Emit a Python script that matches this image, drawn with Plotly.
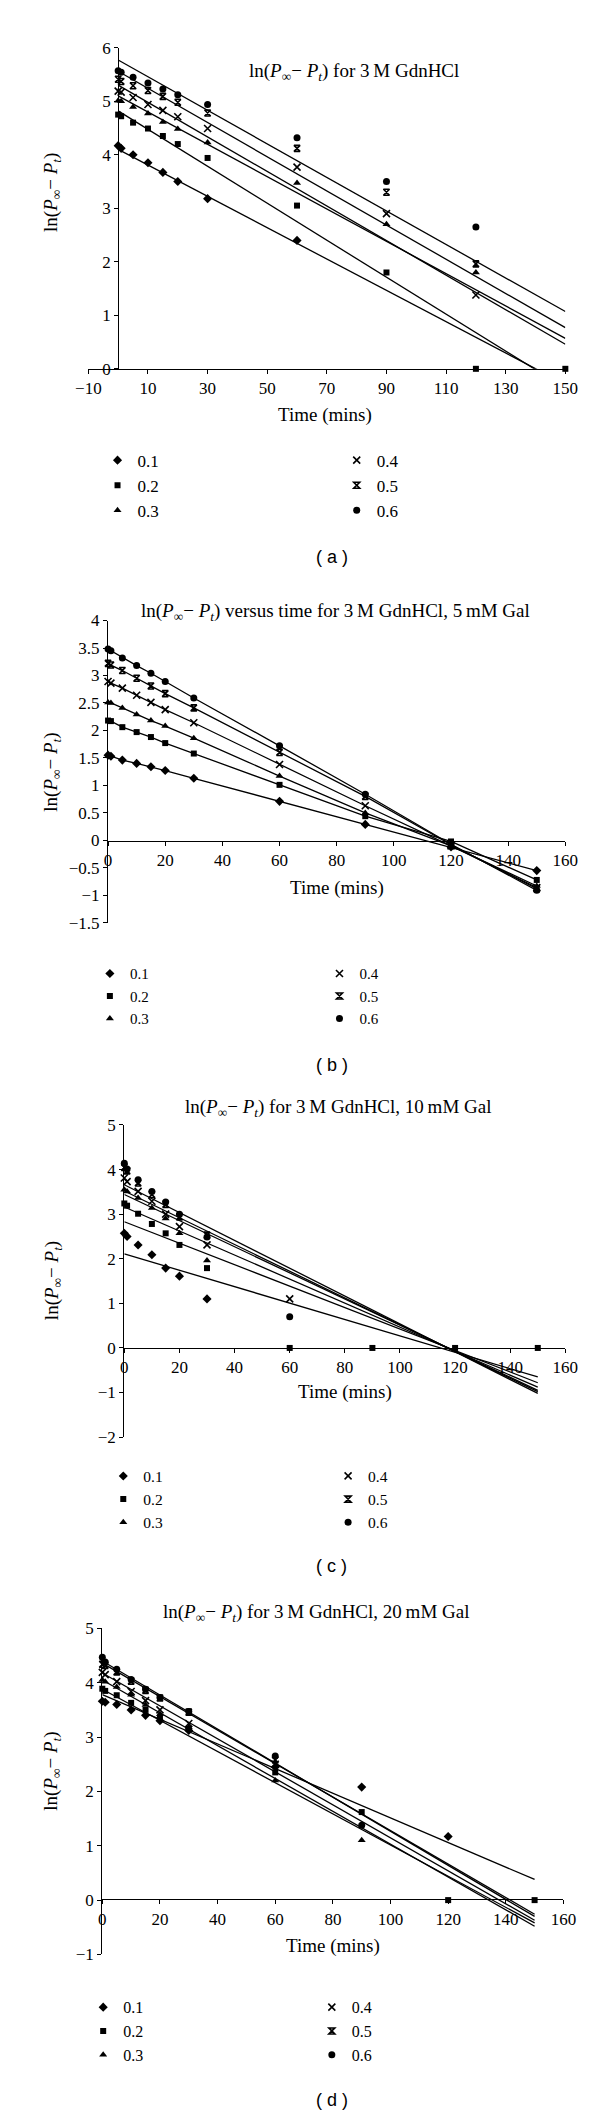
import plotly.graph_objects as go

W, H = 600, 2117

TIME = [0, 1, 5, 10, 15, 20, 30, 60, 90, 120, 150]
SERIES = ["0.1", "0.2", "0.3", "0.4", "0.5", "0.6"]
FIT_X = [0, 150]

# Panel (a): 3 M GdnHCl
a_01 = [4.17, 4.12, 4.00, 3.85, 3.67, 3.50, 3.18, 2.40, None, None, None]
a_02 = [4.75, 4.72, 4.60, 4.49, 4.35, 4.20, 3.94, 3.05, 1.80, 0, 0]
a_03 = [5.01, 5.00, 4.89, 4.77, 4.61, 4.48, 4.23, 3.47, 2.70, 1.80, None]
a_04 = [5.19, 5.17, 5.07, 4.94, 4.83, 4.71, 4.49, 3.77, 2.90, 1.38, None]
a_05 = [5.41, 5.37, 5.29, 5.20, 5.09, 4.98, 4.78, 4.12, 3.30, 1.96, None]
a_06 = [5.57, 5.54, 5.45, 5.34, 5.23, 5.12, 4.94, 4.32, 3.50, 2.65, None]
fit_a_start = [4.10, 4.82, 5.10, 5.30, 5.56, 5.77]
fit_a_end = [-0.29, -0.36, 0.57, 0.46, 0.77, 1.07]

# Panel (b): 3 M GdnHCl, 5 mM Gal
b_01 = [1.55, 1.53, 1.46, 1.40, 1.34, 1.27, 1.13, 0.71, 0.29, -0.12, -0.55]
b_02 = [2.18, 2.17, 2.06, 1.97, 1.88, 1.77, 1.58, 1.01, 0.44, -0.02, -0.72]
b_03 = [2.51, 2.50, 2.41, 2.29, 2.18, 2.08, 1.86, 1.17, 0.50, -0.10, -0.83]
b_04 = [2.89, 2.86, 2.77, 2.64, 2.51, 2.38, 2.14, 1.38, 0.63, -0.10, -0.86]
b_05 = [3.22, 3.19, 3.09, 2.95, 2.81, 2.67, 2.41, 1.60, 0.80, -0.08, -0.88]
b_06 = [3.48, 3.45, 3.32, 3.18, 3.04, 2.89, 2.59, 1.72, 0.84, -0.07, -0.91]

# Panel (c): 3 M GdnHCl, 10 mM Gal
c_01 = [2.57, 2.50, 2.31, 2.09, 1.79, 1.61, 1.10, None, None, None, None]
c_02 = [3.24, 3.19, 3.01, 2.78, 2.57, 2.31, 1.79, 0, 0, 0, 0]
c_03 = [3.55, 3.51, 3.36, 3.14, 2.90, 2.57, 1.96, None, None, None, None]
c_04 = [3.81, 3.73, 3.51, 3.29, 3.00, 2.72, 2.31, 1.10, None, None, None]
c_05 = [4.05, 3.97, 3.70, 3.44, 3.22, 2.94, 2.53, None, None, None, None]
c_06 = [4.14, 4.01, 3.77, 3.51, 3.27, 3.00, 2.49, 0.70, None, None, None]
fit_c_start = [2.11, 2.83, 3.16, 3.44, 3.52, 3.66]
fit_c_end = [-0.65, -0.78, -0.88, -0.95, -0.98, -1.02]

# Panel (d): 3 M GdnHCl, 20 mM Gal
d_01 = [3.66, 3.64, 3.60, 3.50, 3.40, 3.30, 3.12, 2.45, 2.08, 1.17, None]
d_02 = [3.89, 3.85, 3.77, 3.63, 3.50, 3.36, 3.15, 2.35, 1.62, 0, 0]
d_03 = [4.05, 4.02, 3.92, 3.78, 3.59, 3.42, 3.18, 2.20, 1.10, None, None]
d_04 = [4.19, 4.15, 4.02, 3.84, 3.67, 3.50, 3.25, 2.50, None, None, None]
d_05 = [4.34, 4.32, 4.20, 4.03, 3.86, 3.72, 3.46, 2.58, None, None, None]
d_06 = [4.47, 4.38, 4.25, 4.06, 3.88, 3.73, 3.47, 2.65, 1.38, None, None]
fit_d_start = [3.78, 3.88, 4.05, 4.18, 4.36, 4.40]
fit_d_end = [0.38, -0.42, -0.48, -0.37, -0.26, -0.30]

TITLES = [
    "ln(<i>P</i><sub>∞</sub>− <i>P</i><sub><i>t</i></sub>) for 3\u2009M GdnHCl",
    "ln(<i>P</i><sub>∞</sub>− <i>P</i><sub><i>t</i></sub>) versus time for 3\u2009M GdnHCl, 5\u2009mM Gal",
    "ln(<i>P</i><sub>∞</sub>− <i>P</i><sub><i>t</i></sub>) for 3\u2009M GdnHCl, 10\u2009mM Gal",
    "ln(<i>P</i><sub>∞</sub>− <i>P</i><sub><i>t</i></sub>) for 3\u2009M GdnHCl, 20\u2009mM Gal",
]
YTITLE = "ln(<i>P</i><sub>∞</sub>− <i>P</i><sub><i>t</i></sub>)"
XTITLE = "Time (mins)"
LABELS = ["( a )", "( b )", "( c )", "( d )"]

SERIF = "Liberation Serif"
SANS = "Liberation Sans"
BLACK = "#000000"

SYMBOLS = ["diamond", "square", "triangle-up", "x-thin-open", "hourglass-open", "circle"]
SIZES = [7, 6, 7, 7, 6, 7]


def py(v):
    return 1 - v / H


def px(v):
    return v / W


fig = go.Figure()

panels = [
    dict(data=[a_01, a_02, a_03, a_04, a_05, a_06], fit=(fit_a_start, fit_a_end), connect=False),
    dict(data=[b_01, b_02, b_03, b_04, b_05, b_06], fit=None, connect=True),
    dict(data=[c_01, c_02, c_03, c_04, c_05, c_06], fit=(fit_c_start, fit_c_end), connect=False),
    dict(data=[d_01, d_02, d_03, d_04, d_05, d_06], fit=(fit_d_start, fit_d_end), connect=False),
]

for p, panel in enumerate(panels):
    xa = "x" if p == 0 else f"x{p+1}"
    ya = "y" if p == 0 else f"y{p+1}"
    if panel["fit"] is not None:
        starts, ends = panel["fit"]
        for i in range(6):
            fig.add_trace(go.Scatter(
                x=FIT_X, y=[starts[i], ends[i]], mode="lines",
                line=dict(color=BLACK, width=1.3), showlegend=False,
                hoverinfo="skip", xaxis=xa, yaxis=ya))
    if panel["connect"]:
        for i in range(6):
            fig.add_trace(go.Scatter(
                x=TIME, y=panel["data"][i], mode="lines",
                line=dict(color=BLACK, width=1.3), showlegend=False,
                hoverinfo="skip", xaxis=xa, yaxis=ya))
    for i in range(6):
        xs = [t for t, v in zip(TIME, panel["data"][i]) if v is not None]
        ys = [v for v in panel["data"][i] if v is not None]
        sym = SYMBOLS[i]
        open_sym = sym.endswith("open")
        legend_id = ("legend" if p == 0 else f"legend{2*p+1}") if i < 3 else f"legend{2*p+2}"
        fig.add_trace(go.Scatter(
            x=xs, y=ys, name=SERIES[i], mode="markers",
            marker=dict(symbol=sym, size=SIZES[i], color=BLACK,
                        line=dict(color=BLACK, width=1.6 if open_sym else 0)),
            cliponaxis=False, xaxis=xa, yaxis=ya, legend=legend_id))

axis_common = dict(showgrid=False, zeroline=False, showline=True, linecolor=BLACK,
                   linewidth=1.3, ticks="outside", ticklen=4, tickwidth=1.2,
                   tickcolor=BLACK, tickfont=dict(family=SERIF, size=17, color=BLACK))

fig.update_layout(
    xaxis=dict(domain=[px(70.4), px(569)], range=[-10, 150], anchor="y",
               tickvals=[-10, 10, 30, 50, 70, 90, 110, 130, 150], **axis_common),
    yaxis=dict(domain=[py(355), py(31)], range=[0, 6], anchor="free",
               position=px(101.6), dtick=1, **axis_common),
    xaxis2=dict(domain=[px(91), px(569)], range=[0, 160], anchor="free",
                position=py(831), dtick=20, **axis_common),
    yaxis2=dict(domain=[py(914), py(609)], range=[-1.5, 4], anchor="x2",
                dtick=0.5, **axis_common),
    xaxis3=dict(domain=[px(108), px(569)], range=[0, 160], anchor="free",
                position=py(1343), dtick=20, **axis_common),
    yaxis3=dict(domain=[py(1433), py(1118)], range=[-2, 5], anchor="x3",
                dtick=1, **axis_common),
    xaxis4=dict(domain=[px(85), px(567)], range=[0, 160], anchor="free",
                position=py(1899), dtick=20, **axis_common),
    yaxis4=dict(domain=[py(1955), py(1626)], range=[-1, 5], anchor="x4",
                dtick=1, **axis_common),
)

# legends: (text x left, right), first-row y, font size
legend_geo = [
    (120, 370, 447, 17),
    (112, 352, 965, 15),
    (126, 361, 1472, 15.5),
    (105, 344, 2008, 16),
]
legend_layout = {}
for p, (lx, rx, ry, fs) in enumerate(legend_geo):
    h = fs * 1.3 + 3
    top = ry - (5 + h / 2)
    for k, tx in enumerate((lx, rx)):
        key = ("legend" if p == 0 else f"legend{2*p+1}") if k == 0 else f"legend{2*p+2}"
        legend_layout[key] = dict(
            x=px(tx - 40), y=py(top), xanchor="left", yanchor="top",
            bgcolor="rgba(0,0,0,0)", borderwidth=0, tracegroupgap=0,
            font=dict(family=SERIF, size=fs, color=BLACK))
fig.update_layout(**legend_layout)

annotations = []
title_pos = [(348, 55), (329, 600), (331, 1101), (308, 1610)]
ytitle_pos = [(33, 177), (33, 762), (33, 1275), (33, 1770)]
xtitle_pos = [(318, 402), (330, 879), (339, 1387), (326, 1946)]
label_pos = [(325, 545), (325, 1057), (325, 1563), (325, 2102)]
for p in range(4):
    annotations.append(dict(text=TITLES[p], x=px(title_pos[p][0]), y=py(title_pos[p][1]),
                            xref="paper", yref="paper", showarrow=False,
                            xanchor="center", yanchor="middle",
                            font=dict(family=SERIF, size=19, color=BLACK)))
    annotations.append(dict(text=YTITLE, x=px(ytitle_pos[p][0]), y=py(ytitle_pos[p][1]),
                            xref="paper", yref="paper", showarrow=False, textangle=-90,
                            xanchor="center", yanchor="middle",
                            font=dict(family=SERIF, size=19, color=BLACK)))
    annotations.append(dict(text=XTITLE, x=px(xtitle_pos[p][0]), y=py(xtitle_pos[p][1]),
                            xref="paper", yref="paper", showarrow=False,
                            xanchor="center", yanchor="middle",
                            font=dict(family=SERIF, size=19, color=BLACK)))
    annotations.append(dict(text=LABELS[p], x=px(label_pos[p][0]), y=py(label_pos[p][1]),
                            xref="paper", yref="paper", showarrow=False,
                            xanchor="center", yanchor="middle",
                            font=dict(family=SANS, size=18, color=BLACK)))

fig.update_layout(
    width=W, height=H, margin=dict(l=0, r=0, t=0, b=0),
    paper_bgcolor="white", plot_bgcolor="white",
    annotations=annotations, showlegend=True,
)

fig.write_html("out.html")
